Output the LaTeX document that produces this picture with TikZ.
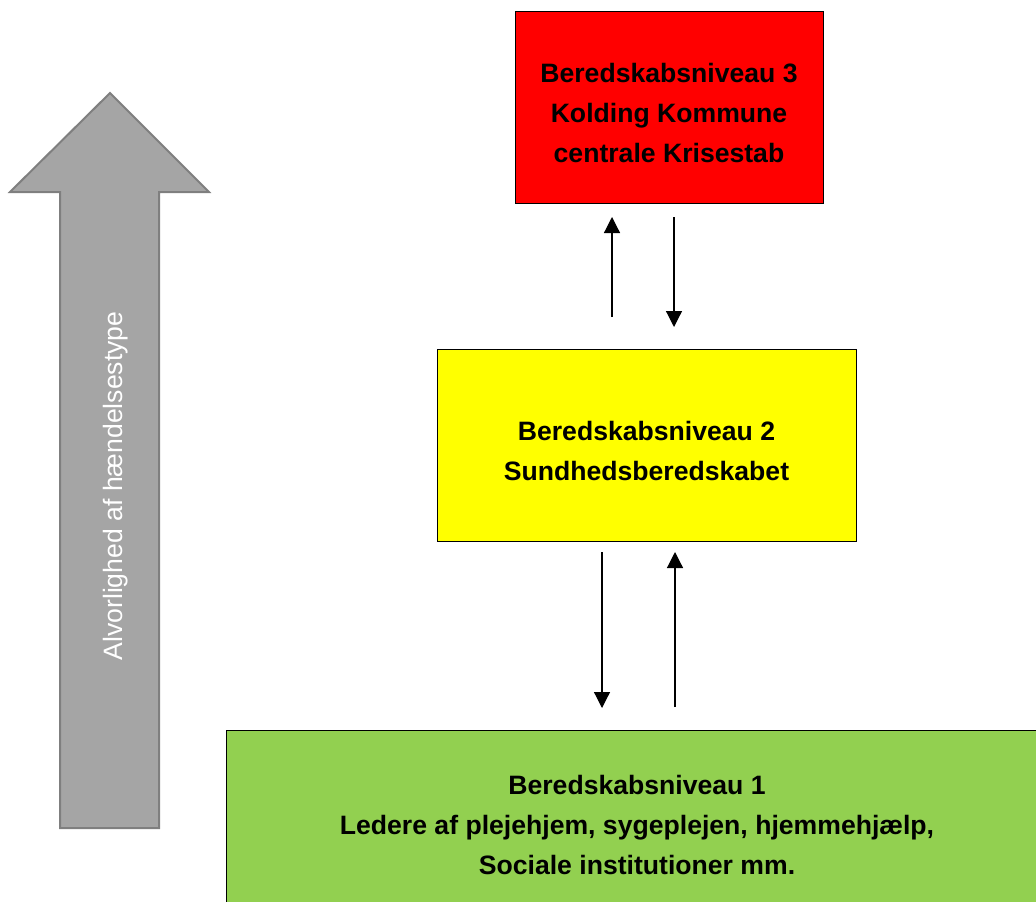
\documentclass[tikz,border=0pt]{standalone}
\usepackage{fontspec}
\setmainfont{Liberation Sans}
\usetikzlibrary{arrows.meta}
\definecolor{lvgreen}{HTML}{92D050}
\definecolor{lvred}{HTML}{FF0000}
\definecolor{lvyellow}{HTML}{FFFF00}
\definecolor{lvgray}{HTML}{A5A5A5}
\definecolor{lvgrayline}{HTML}{7F7F7F}
\tikzset{
  levelbox/.style={draw=black, line width=0.8pt, inner sep=0pt},
  leveltext/.style={inner sep=0pt, align=center,
    font=\fontsize{26.6}{40}\selectfont\bfseries},
  flow/.style={line width=1.2pt, -{Triangle[width=16pt,length=16pt]}},
}
\begin{document}
\begin{tikzpicture}[x=1pt,y=-1pt]
\path[use as bounding box] (0,0) rectangle (1036,902);
\clip (0,0) rectangle (1036,902);
% big severity arrow
\draw[fill=lvgray, draw=lvgrayline, line width=2pt, line join=miter]
  (110,93) -- (209,192) -- (159,192) -- (159,828) -- (60,828) -- (60,192) -- (10,192) -- cycle;
\node[rotate=90, text=white, font=\fontsize{26.6}{32}\selectfont] (sev) at (116,486) {Alvorlighed af hændelsestype};
% level boxes
\node[levelbox, fill=lvred, minimum width=308pt, minimum height=192pt] (n3) at (669,107) {};
\node[leveltext] (n3t) at ([yshift=-6pt]n3.center)
  {Beredskabsniveau 3\\Kolding Kommune\\centrale Krisestab};
\node[levelbox, fill=lvyellow, minimum width=419pt, minimum height=192pt] (n2) at (646.5,445) {};
\node[leveltext] (n2t) at ([yshift=-6pt]n2.center)
  {Beredskabsniveau 2\\Sundhedsberedskabet};
\node[levelbox, fill=lvgreen, minimum width=822pt, minimum height=190pt] (n1) at (637,825) {};
\node[leveltext] (n1t) at (n1.center)
  {Beredskabsniveau 1\\Ledere af plejehjem, sygeplejen, hjemmehjælp,\\Sociale institutioner mm.};
% connectors
\coordinate (a1s) at (612,317);
\coordinate (a1e) at (612,217);
\coordinate (a2s) at (674,217);
\coordinate (a2e) at (674,327);
\coordinate (a3s) at (602,552);
\coordinate (a3e) at (602,708);
\coordinate (a4s) at (675,707);
\coordinate (a4e) at (675,552);
\draw[flow] (a1s) -- (a1e);
\draw[flow] (a2s) -- (a2e);
\draw[flow] (a3s) -- (a3e);
\draw[flow] (a4s) -- (a4e);
\end{tikzpicture}
\end{document}
